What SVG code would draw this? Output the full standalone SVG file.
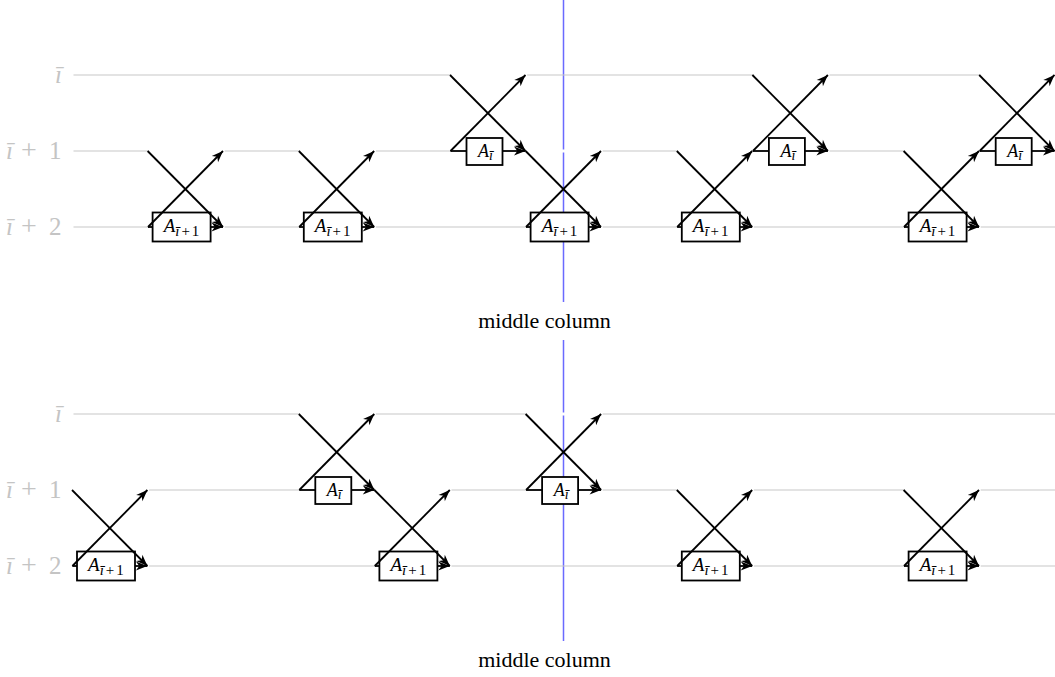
<svg xmlns="http://www.w3.org/2000/svg" width="1055" height="677" viewBox="0 0 1055 677">
<style>
.g{stroke:#c8c8c8;stroke-width:1.2;fill:none}
.k{stroke:#000;stroke-width:1.8;fill:none}
.a{stroke:#000;stroke-width:1.8;fill:none;marker-end:url(#st)}
.bx{fill:#fff;stroke:#000;stroke-width:1.8}
.lbl{font-family:"Liberation Serif",serif;font-size:25px;fill:#c4c4c4}
.mc{font-family:"Liberation Serif",serif;font-size:22px;fill:#000}
.bt{font-family:"Liberation Serif",serif;font-size:19px;fill:#000}
.bs{font-family:"Liberation Serif",serif;font-size:18px;fill:#000;font-style:italic}
.blue{stroke:#6a6aff;stroke-width:1.5}
</style>
<defs>
<marker id="st" markerUnits="userSpaceOnUse" viewBox="0 0 13 10" refX="12" refY="5" markerWidth="13" markerHeight="10" orient="auto">
<path d="M0.5,0.6 L12,5 L0.5,9.4 L3.8,5 Z" fill="#000"/>
</marker>
</defs>

<g id="middle-column">
<line class="blue" x1="563.5" y1="0" x2="563.5" y2="302"/>
<line class="blue" x1="563.5" y1="340" x2="563.5" y2="641"/>
<rect x="561" y="149.5" width="5" height="3" fill="#fff"/>
<rect x="561" y="412.5" width="5" height="3" fill="#fff"/>
<text class="mc" x="544.5" y="328" text-anchor="middle">middle column</text>
<text class="mc" x="544.5" y="667" text-anchor="middle">middle column</text>
</g>

<g id="wires-top">
<path class="g" d="M73.5,75H451.5M527.1,75H753.9M829.5,75H980.7"/>
<path class="g" d="M73.5,151H149.1M224.7,151H300.3M375.9,151H451.5M602.7,151H678.3M829.5,151H905.1"/>
<path class="g" d="M73.5,227H149.1M224.7,227H300.3M375.9,227H527.1M602.7,227H678.3M753.9,227H905.1M980.7,227H1055"/>
</g>
<g id="wires-bottom">
<path class="g" d="M73.5,414H300.3M375.9,414H527.1M602.7,414H1055"/>
<path class="g" d="M149.1,490H300.3M451.5,490H527.1M602.7,490H678.3M753.9,490H905.1M980.7,490H1055"/>
<path class="g" d="M149.1,566H375.9M451.5,566H678.3M753.9,566H905.1M980.7,566H1055"/>
</g>

<g id="labels-top">
<text class="lbl" font-style="italic" x="62" y="83" text-anchor="end">ī</text>
<text class="lbl" x="6" y="159"><tspan font-style="italic">ī</tspan><tspan x="21" font-size="28">+</tspan><tspan x="49">1</tspan></text>
<text class="lbl" x="6" y="235"><tspan font-style="italic">ī</tspan><tspan x="21" font-size="28">+</tspan><tspan x="49">2</tspan></text>
</g>
<g id="labels-bottom">
<text class="lbl" font-style="italic" x="62" y="422" text-anchor="end">ī</text>
<text class="lbl" x="6" y="498"><tspan font-style="italic">ī</tspan><tspan x="21" font-size="28">+</tspan><tspan x="49">1</tspan></text>
<text class="lbl" x="6" y="574"><tspan font-style="italic">ī</tspan><tspan x="21" font-size="28">+</tspan><tspan x="49">2</tspan></text>
</g>

<!-- TOP PANEL GATES -->
<g id="t1">
<rect class="bx" x="152.6" y="212.5" width="58" height="29"/>
<text class="bt" x="182.5" y="232" text-anchor="middle"><tspan font-style="italic">A</tspan><tspan font-size="15" dy="3.5" letter-spacing="2"><tspan font-style="italic">ī</tspan>+1</tspan></text>
<line class="k" x1="148" y1="227" x2="152.6" y2="227"/>
<line class="a" x1="210.6" y1="227" x2="223" y2="227"/>
<line class="a" x1="147.6" y1="151" x2="223" y2="227"/>
<line class="a" x1="148" y1="227" x2="223" y2="151"/>
</g>
<g id="t2">
<rect class="bx" x="303.8" y="212.5" width="58" height="29"/>
<text class="bt" x="333.7" y="232" text-anchor="middle"><tspan font-style="italic">A</tspan><tspan font-size="15" dy="3.5" letter-spacing="2"><tspan font-style="italic">ī</tspan>+1</tspan></text>
<line class="k" x1="299.2" y1="227" x2="303.8" y2="227"/>
<line class="a" x1="361.8" y1="227" x2="374.2" y2="227"/>
<line class="a" x1="298.8" y1="151" x2="374.2" y2="227"/>
<line class="a" x1="299.2" y1="227" x2="374.2" y2="151"/>
</g>
<g id="t3">
<rect class="bx" x="466.5" y="138" width="36" height="27"/>
<text class="bs" x="485.5" y="156.5" text-anchor="middle">A<tspan font-size="14" dy="3.5">ī</tspan></text>
<line class="k" x1="450.5" y1="151" x2="466.5" y2="151"/>
<line class="a" x1="502.5" y1="151" x2="525.5" y2="151"/>
<line class="a" x1="450" y1="75" x2="525.5" y2="151"/>
<line class="a" x1="450.5" y1="151" x2="525.5" y2="75"/>
</g>
<g id="t4">
<rect class="bx" x="530.6" y="212.5" width="58" height="29"/>
<text class="bt" x="560.5" y="232" text-anchor="middle"><tspan font-style="italic">A</tspan><tspan font-size="15" dy="3.5" letter-spacing="2"><tspan font-style="italic">ī</tspan>+1</tspan></text>
<line class="k" x1="526" y1="227" x2="530.6" y2="227"/>
<line class="a" x1="588.6" y1="227" x2="601" y2="227"/>
<line class="a" x1="525.6" y1="151" x2="601" y2="227"/>
<line class="a" x1="526" y1="227" x2="601" y2="151"/>
</g>
<g id="t5">
<rect class="bx" x="681.8" y="212.5" width="58" height="29"/>
<text class="bt" x="711.7" y="232" text-anchor="middle"><tspan font-style="italic">A</tspan><tspan font-size="15" dy="3.5" letter-spacing="2"><tspan font-style="italic">ī</tspan>+1</tspan></text>
<line class="k" x1="677.2" y1="227" x2="681.8" y2="227"/>
<line class="a" x1="739.8" y1="227" x2="752.2" y2="227"/>
<line class="a" x1="676.8" y1="151" x2="752.2" y2="227"/>
<line class="a" x1="677.2" y1="227" x2="752.2" y2="151"/>
</g>
<g id="t6">
<rect class="bx" x="768.9" y="138" width="36" height="27"/>
<text class="bs" x="787.9" y="156.5" text-anchor="middle">A<tspan font-size="14" dy="3.5">ī</tspan></text>
<line class="k" x1="752.9" y1="151" x2="768.9" y2="151"/>
<line class="a" x1="804.9" y1="151" x2="827.9" y2="151"/>
<line class="a" x1="752.4" y1="75" x2="827.9" y2="151"/>
<line class="a" x1="752.9" y1="151" x2="827.9" y2="75"/>
</g>
<g id="t7">
<rect class="bx" x="908.6" y="212.5" width="58" height="29"/>
<text class="bt" x="938.5" y="232" text-anchor="middle"><tspan font-style="italic">A</tspan><tspan font-size="15" dy="3.5" letter-spacing="2"><tspan font-style="italic">ī</tspan>+1</tspan></text>
<line class="k" x1="904" y1="227" x2="908.6" y2="227"/>
<line class="a" x1="966.6" y1="227" x2="979" y2="227"/>
<line class="a" x1="903.6" y1="151" x2="979" y2="227"/>
<line class="a" x1="904" y1="227" x2="979" y2="151"/>
</g>
<g id="t8">
<rect class="bx" x="995.7" y="138" width="36" height="27"/>
<text class="bs" x="1014.7" y="156.5" text-anchor="middle">A<tspan font-size="14" dy="3.5">ī</tspan></text>
<line class="k" x1="979.7" y1="151" x2="995.7" y2="151"/>
<line class="a" x1="1031.7" y1="151" x2="1054.5" y2="151"/>
<line class="a" x1="979.2" y1="75" x2="1054.5" y2="151"/>
<line class="a" x1="979.7" y1="151" x2="1054.5" y2="75"/>
</g>

<!-- BOTTOM PANEL GATES -->
<g id="b1">
<rect class="bx" x="77" y="551.5" width="58" height="29"/>
<text class="bt" x="106.9" y="571" text-anchor="middle"><tspan font-style="italic">A</tspan><tspan font-size="15" dy="3.5" letter-spacing="2"><tspan font-style="italic">ī</tspan>+1</tspan></text>
<line class="k" x1="72.4" y1="566" x2="77" y2="566"/>
<line class="a" x1="135" y1="566" x2="147.4" y2="566"/>
<line class="a" x1="72" y1="490" x2="147.4" y2="566"/>
<line class="a" x1="72.4" y1="566" x2="147.4" y2="490"/>
</g>
<g id="b2">
<rect class="bx" x="315.3" y="477" width="36" height="27"/>
<text class="bs" x="334.3" y="495.5" text-anchor="middle">A<tspan font-size="14" dy="3.5">ī</tspan></text>
<line class="k" x1="299.3" y1="490" x2="315.3" y2="490"/>
<line class="a" x1="351.3" y1="490" x2="374.3" y2="490"/>
<line class="a" x1="298.8" y1="414" x2="374.3" y2="490"/>
<line class="a" x1="299.3" y1="490" x2="374.3" y2="414"/>
</g>
<g id="b3">
<rect class="bx" x="379.4" y="551.5" width="58" height="29"/>
<text class="bt" x="409.3" y="571" text-anchor="middle"><tspan font-style="italic">A</tspan><tspan font-size="15" dy="3.5" letter-spacing="2"><tspan font-style="italic">ī</tspan>+1</tspan></text>
<line class="k" x1="374.8" y1="566" x2="379.4" y2="566"/>
<line class="a" x1="437.4" y1="566" x2="449.8" y2="566"/>
<line class="a" x1="374.4" y1="490" x2="449.8" y2="566"/>
<line class="a" x1="374.8" y1="566" x2="449.8" y2="490"/>
</g>
<g id="b4">
<rect class="bx" x="542.1" y="477" width="36" height="27"/>
<text class="bs" x="561.1" y="495.5" text-anchor="middle">A<tspan font-size="14" dy="3.5">ī</tspan></text>
<line class="k" x1="526.1" y1="490" x2="542.1" y2="490"/>
<line class="a" x1="578.1" y1="490" x2="601.1" y2="490"/>
<line class="a" x1="525.6" y1="414" x2="601.1" y2="490"/>
<line class="a" x1="526.1" y1="490" x2="601.1" y2="414"/>
</g>
<g id="b5">
<rect class="bx" x="681.8" y="551.5" width="58" height="29"/>
<text class="bt" x="711.7" y="571" text-anchor="middle"><tspan font-style="italic">A</tspan><tspan font-size="15" dy="3.5" letter-spacing="2"><tspan font-style="italic">ī</tspan>+1</tspan></text>
<line class="k" x1="677.2" y1="566" x2="681.8" y2="566"/>
<line class="a" x1="739.8" y1="566" x2="752.2" y2="566"/>
<line class="a" x1="676.8" y1="490" x2="752.2" y2="566"/>
<line class="a" x1="677.2" y1="566" x2="752.2" y2="490"/>
</g>
<g id="b6">
<rect class="bx" x="908.6" y="551.5" width="58" height="29"/>
<text class="bt" x="938.5" y="571" text-anchor="middle"><tspan font-style="italic">A</tspan><tspan font-size="15" dy="3.5" letter-spacing="2"><tspan font-style="italic">ī</tspan>+1</tspan></text>
<line class="k" x1="904" y1="566" x2="908.6" y2="566"/>
<line class="a" x1="966.6" y1="566" x2="979" y2="566"/>
<line class="a" x1="903.6" y1="490" x2="979" y2="566"/>
<line class="a" x1="904" y1="566" x2="979" y2="490"/>
</g>
</svg>
